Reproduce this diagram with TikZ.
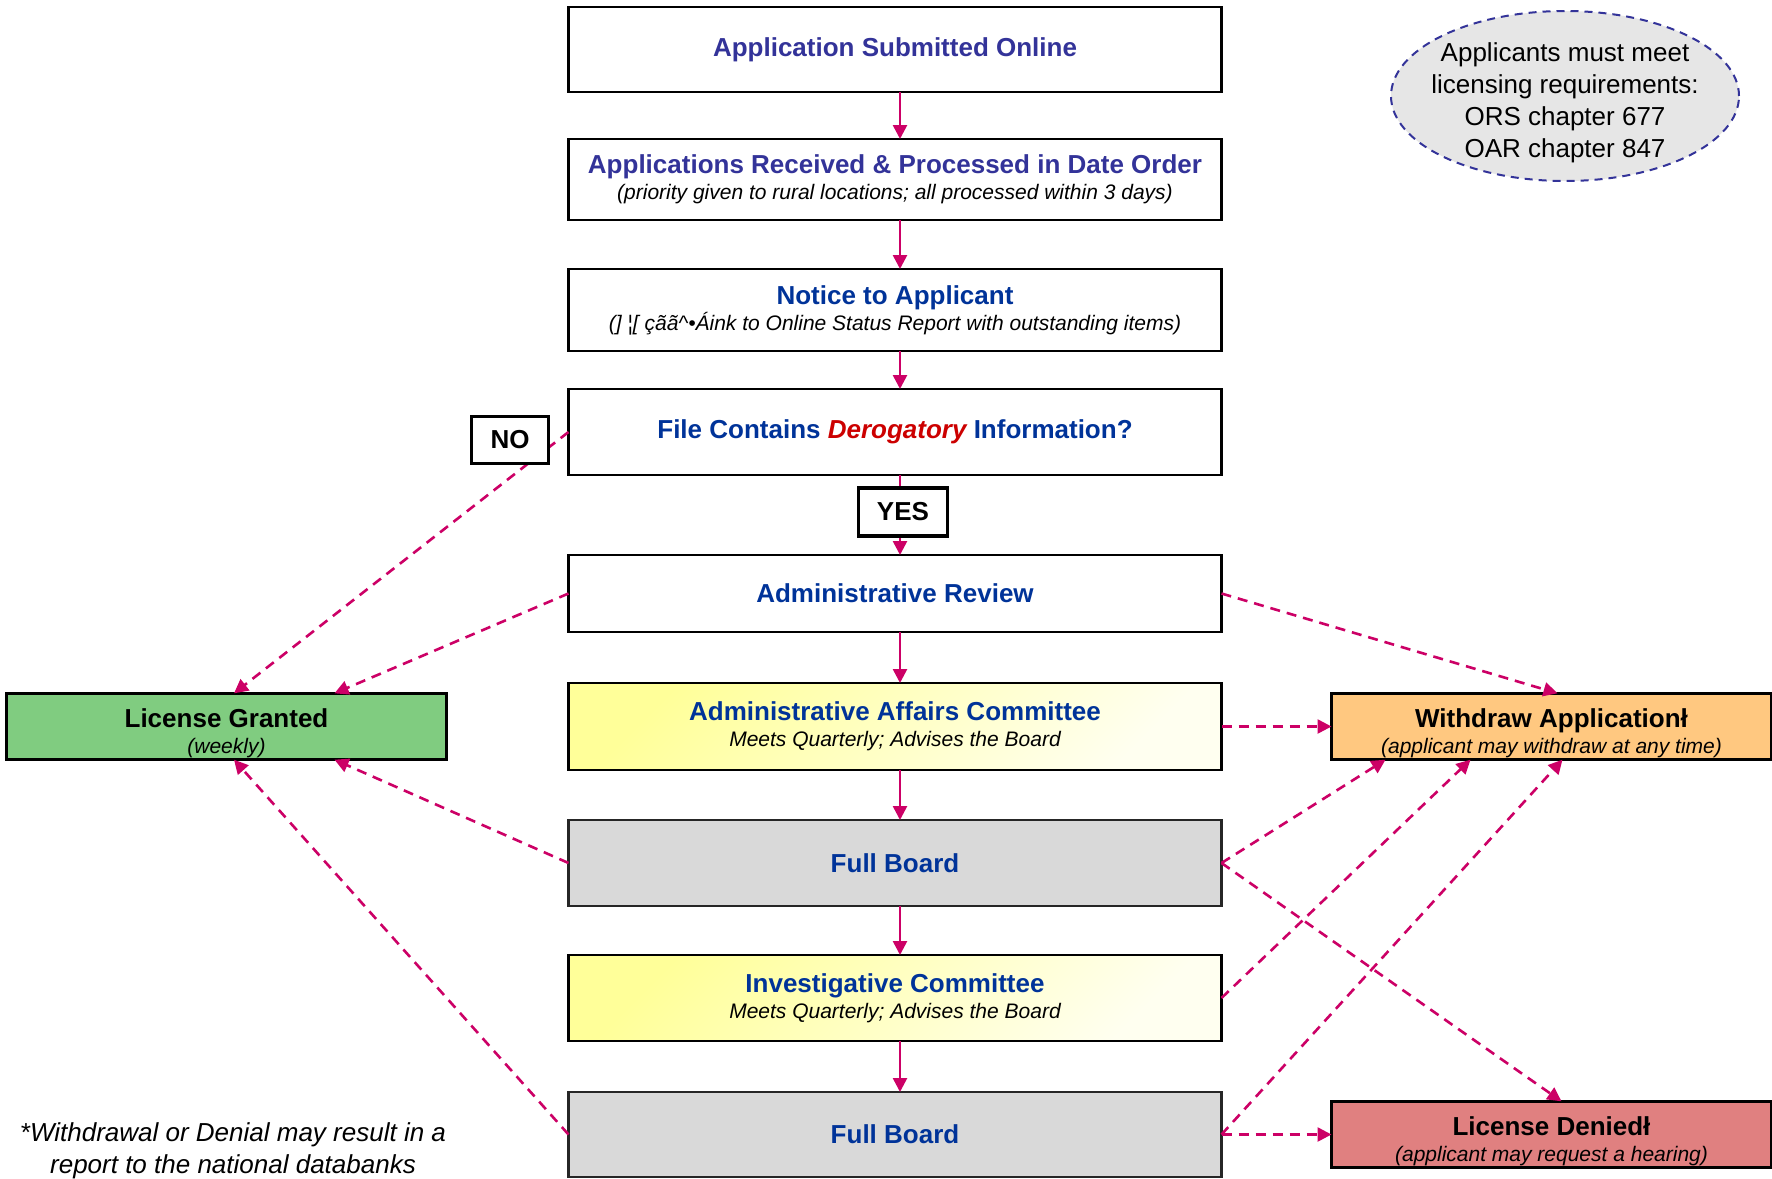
\documentclass[tikz,border=0pt]{standalone}
\usepackage{fontspec}
\setmainfont{Liberation Sans}
\usepackage{xcolor}
\usetikzlibrary{positioning,arrows.meta,shapes.geometric,calc}

\definecolor{hdblue}{HTML}{333399}
\definecolor{dkblue}{HTML}{003399}
\definecolor{derored}{HTML}{CC0000}
\definecolor{linkmag}{HTML}{CC0066}
\definecolor{grantgreen}{HTML}{80CC80}
\definecolor{wdorange}{HTML}{FFC880}
\definecolor{denyred}{HTML}{E08080}
\definecolor{boardgray}{HTML}{D9D9D9}
\definecolor{notegray}{HTML}{E6E6E6}
\definecolor{cmtA}{HTML}{FFFF99}
\definecolor{cmtB}{HTML}{FFFFF0}

\newcommand{\headtxt}{\fontsize{13}{13}\selectfont\bfseries}
\newcommand{\subtxt}{\fontsize{10.5}{13}\selectfont\itshape}
\newcommand{\restxt}{\headtxt\rule{0pt}{16pt}}

\tikzset{
  basebox/.style={draw, line width=1.2pt, outer sep=0pt, minimum width=326.5pt, align=center, inner sep=2pt, font=\fontsize{13}{13}\selectfont},
  stepbox/.style={basebox, fill=white},
  cmtbox/.style={basebox, top color=cmtA, bottom color=cmtB, shading angle=45},
  boardbox/.style={basebox, fill=boardgray, draw=black!85},
  resbox/.style={draw, line width=1.2pt, outer sep=0pt, minimum width=220pt, minimum height=33pt, align=center, inner sep=1pt, font=\fontsize{13}{13}\selectfont},
  ansbox/.style={draw, line width=1.8pt, fill=white, inner sep=0pt, font=\headtxt},
  flow/.style={draw=linkmag, line width=1.3pt, -{Triangle[length=7pt,width=7pt]}},
  flowdown/.style={flow, transform canvas={xshift=2.5pt}},
  link/.style={flow, dash pattern=on 5pt off 3.5pt},
}

\begin{document}
\begin{tikzpicture}[x=0.5pt, y=-0.5pt]
    \path[use as bounding box, fill=white] (0,0) rectangle (1772,1178);

    % main column
    \node[stepbox, minimum height=42.5pt, anchor=north] (submit) at (895,7) {\headtxt\color{hdblue} Application Submitted Online};
    \node[stepbox, minimum height=40.5pt, below=23.5pt of submit] (recv) {{\headtxt\color{hdblue} Applications Received \& Processed in Date Order}\\ {\subtxt (priority given to rural locations; all processed within 3 days)}};
    \node[stepbox, minimum height=41pt, below=24.5pt of recv] (notice) {{\headtxt\color{dkblue} Notice to Applicant}\\ {\subtxt (] ¦[ çãã\textasciicircum•Áink to Online Status Report with outstanding items)}};
    \node[stepbox, minimum height=43pt, below=19pt of notice] (derog) {\headtxt\color{dkblue} File Contains {\itshape\color{derored} Derogatory} Information?};
    \node[stepbox, minimum height=38.5pt, below=40pt of derog] (admrev) {\headtxt\color{dkblue} Administrative Review};
    \node[cmtbox, minimum height=43.5pt, below=25.5pt of admrev] (aac) {{\headtxt\color{dkblue} Administrative Affairs Committee}\\ {\subtxt Meets Quarterly; Advises the Board}};
    \node[boardbox, minimum height=43pt, below=25pt of aac] (board1) {\headtxt\color{dkblue} Full Board};
    \node[cmtbox, minimum height=43pt, below=24.5pt of board1] (invc) {{\headtxt\color{dkblue} Investigative Committee}\\ {\subtxt Meets Quarterly; Advises the Board}};
    \node[boardbox, minimum height=42.5pt, below=25.5pt of invc] (board2) {\headtxt\color{dkblue} Full Board};

    % outcomes
    \node[resbox, fill=grantgreen, left=61pt of aac] (granted) {{\restxt License Granted}\\ {\subtxt (weekly)}};
    \node[resbox, fill=wdorange, right=55pt of aac] (withdraw) {{\restxt Withdraw Applicationł}\\ {\subtxt (applicant may withdraw at any time)}};
    \node[resbox, fill=denyred, right=55pt of board2] (denied) {{\restxt License Deniedł}\\ {\subtxt (applicant may request a hearing)}};

    \node[ellipse, draw=hdblue, line width=1pt, dash pattern=on 4pt off 3pt, fill=notegray, minimum width=174pt, minimum height=85pt] (req) at (1565,96) {};
    \node[align=center, font=\fontsize{13}{16}\selectfont] (reqtxt) at (1565,103) {Applicants must meet\\licensing requirements:\\ORS chapter 677\\OAR chapter 847};
    \node[align=center, font=\fontsize{13}{16}\selectfont\itshape] (foot) at (233,1151) {*Withdrawal or Denial may result in a\\report to the national databanks};

    \draw[flowdown] (submit) -- (recv);
    \draw[flowdown] (recv) -- (notice);
    \draw[flowdown] (notice) -- (derog);
    \draw[flowdown] (derog) -- (admrev);
    \draw[flowdown] (admrev) -- (aac);
    \draw[flowdown] (aac) -- (board1);
    \draw[flowdown] (board1) -- (invc);
    \draw[flowdown] (invc) -- (board2);

    \draw[link] (derog.west) -- ([xshift=3.75pt]granted.north);
    \draw[link] (admrev.west) -- ([xshift=54pt]granted.north);
    \draw[link] (board1.west) -- ([xshift=54pt]granted.south);
    \draw[link] (board2.west) -- ([xshift=3.75pt]granted.south);
    \draw[link] (admrev.east) -- ([xshift=3pt]withdraw.north);
    \draw[link] (aac.east) -- (aac.east -| withdraw.west);
    \draw[link] (board1.east) -- ([xshift=-83pt]withdraw.south);
    \draw[link] (board1.east) -- ([xshift=5pt]denied.north);
    \draw[link] (invc.east) -- ([xshift=-40.5pt]withdraw.south);
    \draw[link] (board2.east) -- ([xshift=5.5pt]withdraw.south);
    \draw[link] (board2.east) -- (denied.west);

    % answers on top of the lines
    \node[ansbox, minimum width=38.5pt, minimum height=23.5pt] (no) at (510,440) {NO};
    \node[ansbox, minimum width=44.5pt, minimum height=24pt] (yes) at (903,512) {YES};
\end{tikzpicture}
\end{document}
